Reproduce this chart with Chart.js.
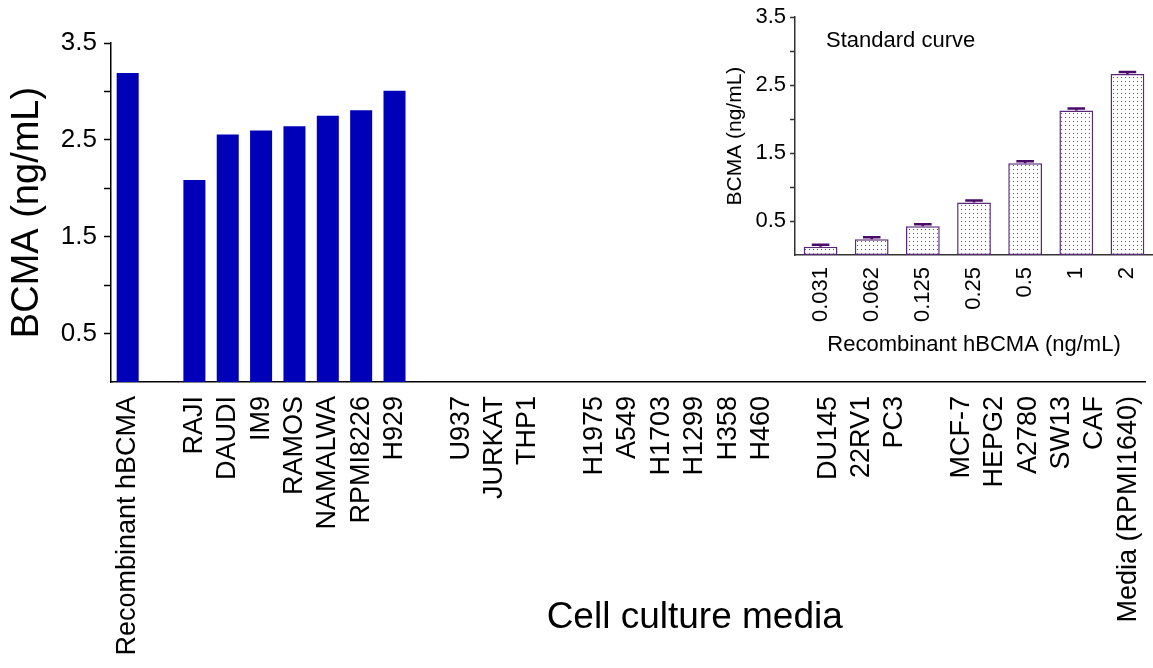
<!DOCTYPE html>
<html>
<head>
<meta charset="utf-8">
<title>BCMA in cell culture media</title>
<script src="https://cdn.jsdelivr.net/npm/chart.js@4.4.1/dist/chart.umd.min.js"></script>
<style>
  html, body { margin: 0; padding: 0; background: #fff; }
  #wrap { position: relative; width: 1153px; height: 668px; overflow: hidden; }
  #main { position: absolute; left: 0; top: 0; }
  #inset { position: absolute; left: 700px; top: 0; }
</style>
</head>
<body>
<div id="wrap">
  <canvas id="main" width="1153" height="668"></canvas>
  <canvas id="inset" width="453" height="370"></canvas>
</div>
<script>
// Cell lines tested (empty entries separate the groups on the axis)
const cellLines = [
  'Recombinant hBCMA', '',
  'RAJI', 'DAUDI', 'IM9', 'RAMOS', 'NAMALWA', 'RPMI8226', 'H929', '',
  'U937', 'JURKAT', 'THP1', '',
  'H1975', 'A549', 'H1703', 'H1299', 'H358', 'H460', '',
  'DU145', '22RV1', 'PC3', '',
  'MCF-7', 'HEPG2', 'A2780', 'SW13', 'CAF', 'Media (RPMI1640)'
];
// Soluble BCMA measured in each supernatant (ng/mL); 0 = not detected
const bcmaLevels = [
  3.19, null,
  2.085, 2.555, 2.596, 2.641, 2.750, 2.806, 3.008, null,
  0, 0, 0, null,
  0, 0, 0, 0, 0, 0, null,
  0, 0, 0, null,
  0, 0, 0, 0, 0, 0
];

// Value axis ticks shared by both panels (labels on every other tick)
const yTickValues = [0.5, 1, 1.5, 2, 2.5, 3, 3.5];
const yTickLabels = ['0.5', '', '1.5', '', '2.5', '', '3.5'];

// Standard curve: recombinant hBCMA concentration vs. measured signal
const standardConc = ['0.031', '0.062', '0.125', '0.25', '0.5', '1', '2'];
const standardMeans = [0.121, 0.233, 0.423, 0.773, 1.351, 2.128, 2.663];
const standardErrors = [0.03, 0.03, 0.03, 0.03, 0.03, 0.03, 0.03];

const FONT = "'Liberation Sans', Arial, Helvetica, sans-serif";
Chart.defaults.font.family = FONT;
Chart.defaults.color = '#000';

// Keep the category axis spanning the full plot width (rotated labels need no side margin)
function fixCategoryAxis(height) {
  return s => {
    s.height = height;
    s.paddingLeft = 0;
    s.paddingRight = 0;
  };
}

// x-axis caption of the main panel, set under the middle of the cell-line groups
const mediaTitlePlugin = {
  id: 'mediaTitle',
  afterDraw(chart) {
    const { ctx } = chart;
    const xs = chart.scales.x;
    ctx.save();
    ctx.font = '37px ' + FONT;
    ctx.fillStyle = '#000';
    ctx.textAlign = 'center';
    ctx.textBaseline = 'alphabetic';
    ctx.fillText('Cell culture media', xs.getPixelForTick(17), xs.bottom - 40);
    ctx.restore();
  }
};

new Chart(document.getElementById('main'), {
  type: 'bar',
  data: {
    labels: cellLines,
    datasets: [{
      data: bcmaLevels,
      backgroundColor: '#0000b8',
      borderWidth: 0,
      barPercentage: 0.66,
      categoryPercentage: 1
    }]
  },
  options: {
    responsive: false,
    animation: false,
    events: [],
    layout: { padding: { top: 43, right: 8, left: 0, bottom: 0 } },
    plugins: { legend: { display: false }, tooltip: { enabled: false } },
    scales: {
      x: {
        grid: { display: true, drawOnChartArea: false, drawTicks: false },
        border: { display: true, color: '#000', width: 1.5 },
        ticks: {
          autoSkip: false, minRotation: 90, maxRotation: 90,
          padding: 14, color: '#000', font: { size: 27 }
        },
        afterFit: fixCategoryAxis(286)
      },
      y: {
        min: 0, max: 3.5,
        afterBuildTicks: s => { s.ticks = yTickValues.map(v => ({ value: v })); },
        ticks: {
          callback: (v, i) => yTickLabels[i],
          padding: 7, color: '#000', font: { size: 26 }
        },
        grid: { drawOnChartArea: false, drawTicks: true, tickLength: 7, tickColor: '#000', tickWidth: 1.5 },
        border: { display: true, color: '#000', width: 1.5 },
        title: {
          display: true, text: 'BCMA (ng/mL)', color: '#000',
          font: { size: 38 }, padding: { top: 5, bottom: 0 }
        },
        afterFit: s => { s.width = 111; }
      }
    }
  },
  plugins: [mediaTitlePlugin]
});

// Dotted fill for the standard-curve bars
const dotPattern = (() => {
  const c = document.createElement('canvas');
  c.width = 4; c.height = 4;
  const g = c.getContext('2d');
  g.fillStyle = '#fff';
  g.fillRect(0, 0, 4, 4);
  g.fillStyle = '#555';
  g.fillRect(1, 1, 1, 1);
  return g.createPattern(c, 'repeat');
})();

// Upper error bar with cap above each standard bar
const errorBarPlugin = {
  id: 'errorBars',
  afterDatasetsDraw(chart) {
    const meta = chart.getDatasetMeta(0);
    const ys = chart.scales.y;
    const ctx = chart.ctx;
    ctx.save();
    ctx.strokeStyle = '#4a0a6a';
    ctx.lineWidth = 2.5;
    meta.data.forEach((bar, i) => {
      const base = ys.getPixelForValue(standardMeans[i]);
      const top = ys.getPixelForValue(standardMeans[i] + standardErrors[i]);
      const half = bar.width * 0.26;
      ctx.beginPath();
      ctx.moveTo(bar.x, base);
      ctx.lineTo(bar.x, top);
      ctx.moveTo(bar.x - half, top);
      ctx.lineTo(bar.x + half, top);
      ctx.stroke();
    });
    ctx.restore();
  }
};

// Panel caption in the upper-left corner of the inset plot area
const curveCaptionPlugin = {
  id: 'curveCaption',
  afterDraw(chart) {
    const { ctx, chartArea } = chart;
    ctx.save();
    ctx.font = '22px ' + FONT;
    ctx.fillStyle = '#000';
    ctx.textAlign = 'left';
    ctx.textBaseline = 'alphabetic';
    ctx.fillText('Standard curve', chartArea.left + 31, chartArea.top + 30);
    ctx.restore();
  }
};

new Chart(document.getElementById('inset'), {
  type: 'bar',
  data: {
    labels: standardConc,
    datasets: [{
      data: standardMeans,
      backgroundColor: dotPattern,
      borderColor: '#5a2878',
      borderWidth: 1.5,
      borderSkipped: false,
      barPercentage: 0.66,
      categoryPercentage: 1
    }]
  },
  options: {
    responsive: false,
    animation: false,
    events: [],
    layout: { padding: { top: 15, right: 0, left: 0, bottom: 0 } },
    plugins: { legend: { display: false }, tooltip: { enabled: false } },
    scales: {
      x: {
        grid: { display: true, drawOnChartArea: false, drawTicks: false },
        border: { display: true, color: '#333', width: 1.5 },
        ticks: {
          autoSkip: false, minRotation: 90, maxRotation: 90,
          padding: 12, color: '#000', font: { size: 22 }
        },
        title: {
          display: true, text: 'Recombinant hBCMA (ng/mL)', color: '#000',
          font: { size: 22 }, padding: { top: 0, bottom: 12 }
        },
        afterFit: fixCategoryAxis(115)
      },
      y: {
        min: 0, max: 3.5,
        afterBuildTicks: s => { s.ticks = yTickValues.map(v => ({ value: v })); },
        ticks: {
          callback: (v, i) => yTickLabels[i],
          padding: 4, color: '#000', font: { size: 22 }
        },
        grid: { drawOnChartArea: false, drawTicks: true, tickLength: 5, tickColor: '#333', tickWidth: 1.5 },
        border: { display: true, color: '#333', width: 1.5 },
        title: {
          display: true, text: 'BCMA (ng/mL)', color: '#000',
          font: { size: 21 }, padding: { top: 23, bottom: 0 }
        },
        afterFit: s => { s.width = 95; }
      }
    }
  },
  plugins: [errorBarPlugin, curveCaptionPlugin]
});
</script>
</body>
</html>
